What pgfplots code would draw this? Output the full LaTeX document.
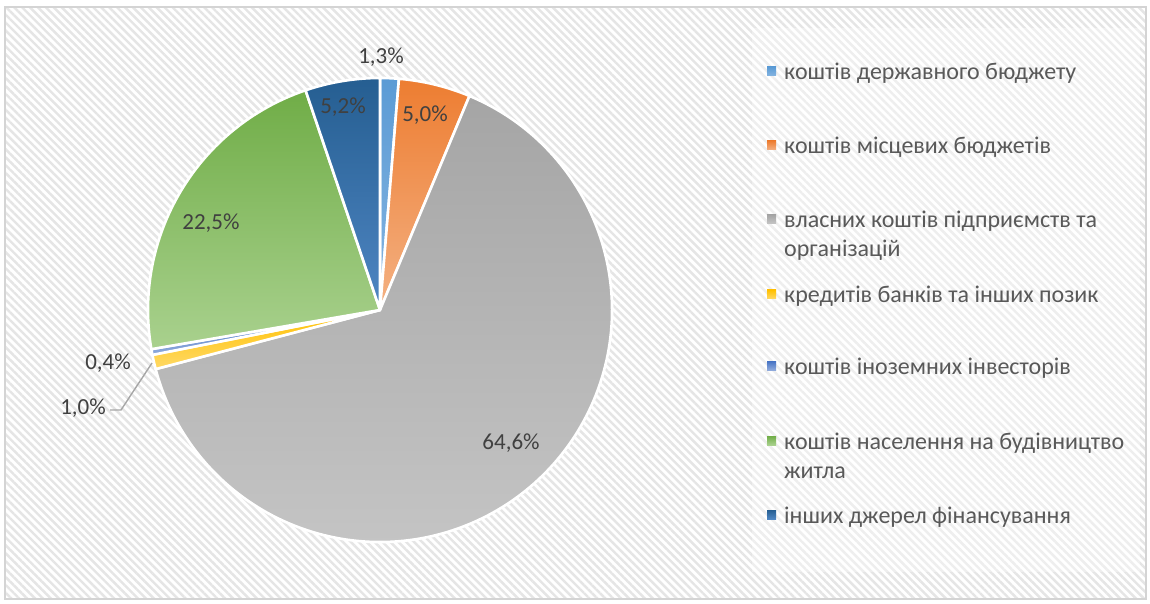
\documentclass[border=0pt]{standalone}
\usepackage{pgfplots}
\pgfplotsset{compat=1.18}
\usepackage{fontspec}
\setmainfont{Carlito}
\usetikzlibrary{patterns.meta}
\definecolor{b1t}{HTML}{5B9BD5}\definecolor{b1b}{HTML}{86B5E1}
\definecolor{ort}{HTML}{ED7D31}\definecolor{orb}{HTML}{F4B183}
\definecolor{grt}{HTML}{A5A5A5}\definecolor{grb}{HTML}{C6C6C6}
\definecolor{yet}{HTML}{FFC000}\definecolor{yeb}{HTML}{FFD966}
\definecolor{bnt}{HTML}{4472C4}\definecolor{bnb}{HTML}{8FAADC}
\definecolor{gnt}{HTML}{70AD47}\definecolor{gnb}{HTML}{A9D18E}
\definecolor{dbt}{HTML}{255E91}\definecolor{dbb}{HTML}{4F86C3}
\definecolor{lbl}{HTML}{404040}
\definecolor{leg}{HTML}{595959}
\begin{document}
\begin{tikzpicture}
\begin{axis}[
  scale only axis, width=1150pt, height=603pt,
  xmin=0, xmax=1150, ymin=0, ymax=603,
  hide axis, clip=false,
]
\pgfplotsextra{
  % background and frame
  \fill[white] (axis cs:0,0) rectangle (axis cs:1150,603);
  \fill[pattern={Lines[angle=-45,distance=5.6pt,line width=2.4pt]}, pattern color=black!10]
    (axis cs:6,4) rectangle (axis cs:1145,596);
  \fill[white, opacity=0.35] (axis cs:752,31) rectangle (axis cs:1140,575);
  \draw[black!17, line width=1.6pt] (axis cs:5,4) rectangle (axis cs:1146,596);
  % pie slices: values in percent, clockwise from top
  \foreach \v/\ct/\cb [remember=\e as \s (initially 90)] in
     {1.3/b1t/b1b, 5.0/ort/orb, 64.6/grt/grb, 1.0/yet/yeb, 0.4/bnt/bnb, 22.5/gnt/gnb, 5.2/dbt/dbb}{
    \pgfmathsetmacro\e{\s-3.6*\v}
    \path[top color=\ct, bottom color=\cb, draw=white, line width=2.6pt, line join=round]
      (axis cs:380,293) -- (axis cs:{380+232*cos(\s)},{293+232*sin(\s)})
      arc[start angle=\s, end angle=\e, radius=232pt] -- cycle;
  }
  % leader line
  \draw[black!35, line width=1.4pt] (axis cs:110,193) -- (axis cs:121,193) -- (axis cs:152,240);
  % data labels
  \begin{scope}[every node/.style={font=\fontsize{23}{27}\selectfont, text=lbl, inner sep=0pt}]
    \node at (axis cs:381,546) {1,3\%};
    \node at (axis cs:425,488) {5,0\%};
    \node at (axis cs:511,160) {64,6\%};
    \node[anchor=east] at (axis cs:106,195) {1,0\%};
    \node at (axis cs:108,240) {0,4\%};
    \node at (axis cs:211,380) {22,5\%};
    \node at (axis cs:343,496) {5,2\%};
  \end{scope}
  % legend
  \begin{scope}[every node/.style={font=\fontsize{24}{29}\selectfont, text=leg, inner sep=0pt, anchor=base west}]
    \foreach \y/\ct/\cb/\t/\u in {
       523/b1t/b1b/{коштів державного бюджету}/{},
       449/ort/orb/{коштів місцевих бюджетів}/{},
       375/grt/grb/{власних коштів підприємств та}/{організацій},
       300/yet/yeb/{кредитів банків та інших позик}/{},
       229/bnt/bnb/{коштів іноземних інвесторів}/{},
       154/gnt/gnb/{коштів населення на будівництво}/{житла},
       80/dbt/dbb/{інших джерел фінансування}/{}}{
      \shade[top color=\ct, bottom color=\cb]
        (axis cs:767,\y+4) rectangle (axis cs:776,\y+13);
      \node at (axis cs:784,\y) {\t};
      \node at (axis cs:784,\y-29) {\u};
    }
  \end{scope}
}
\end{axis}
\end{tikzpicture}
\end{document}
